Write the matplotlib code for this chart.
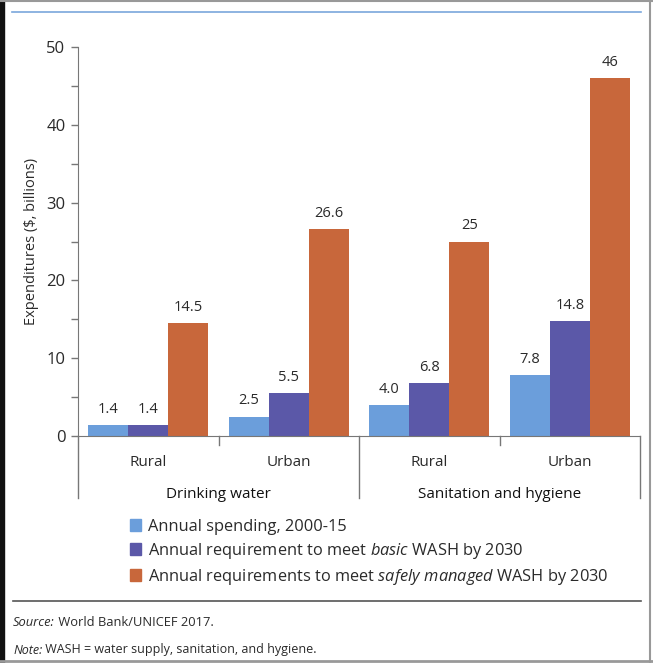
import matplotlib
matplotlib.use("Agg")
import matplotlib.pyplot as plt
from matplotlib.patches import Patch, Rectangle
from matplotlib.lines import Line2D
import numpy as np

# data
subgroups = ["Rural", "Urban", "Rural", "Urban"]
groups = ["Drinking water", "Sanitation and hygiene"]
spending = [1.4, 2.5, 4.0, 7.8]
basic_req = [1.4, 5.5, 6.8, 14.8]
safe_req = [14.5, 26.6, 25, 46]
spending_lbl = ["1.4", "2.5", "4.0", "7.8"]
basic_lbl = ["1.4", "5.5", "6.8", "14.8"]
safe_lbl = ["14.5", "26.6", "25", "46"]
series_names = [
    "Annual spending, 2000-15",
    r"Annual requirement to meet $\it{basic}$ WASH by 2030",
    r"Annual requirements to meet $\it{safely\ managed}$ WASH by 2030",
]

BLUE = "#6b9edb"
PURPLE = "#5b58a8"
ORANGE = "#c8673b"
TXT = "#2a2a2a"
AX = "#777777"

plt.rcParams["font.family"] = ["Open Sans", "DejaVu Sans"]
plt.rcParams["mathtext.fontset"] = "custom"
plt.rcParams["mathtext.it"] = "Open Sans:italic"
plt.rcParams["mathtext.rm"] = "Open Sans"

W, H = 653, 663
fig = plt.figure(figsize=(W / 100, H / 100), dpi=100)

def fx(px):
    return px / W

def fy(py):
    return 1 - py / H

ax = fig.add_axes([fx(78), fy(436), fx(640) - fx(78), fy(47) - fy(436)])

x = np.arange(len(subgroups))
w = 0.285
b1 = ax.bar(x - w, spending, w, color=BLUE)
b2 = ax.bar(x, basic_req, w, color=PURPLE)
b3 = ax.bar(x + w, safe_req, w, color=ORANGE)
for bars, labels in [(b1, spending_lbl), (b2, basic_lbl), (b3, safe_lbl)]:
    ax.bar_label(bars, labels=labels, padding=6, fontsize=10.5, color=TXT)

ax.set_xlim(-0.5, 3.5)
ax.set_ylim(0, 50)
ax.set_yticks(np.arange(0, 51, 10))
ax.set_yticks(np.arange(5, 50, 10), minor=True)
ax.tick_params(axis="y", which="both", direction="out", length=5, width=1,
               color=AX, labelsize=12, labelcolor=TXT, pad=4)
ax.set_xticks([])
for s in ["top", "right"]:
    ax.spines[s].set_visible(False)
ax.spines["left"].set_color(AX)
ax.spines["bottom"].set_color(AX)
ax.set_ylabel("Expenditures ($, billions)", fontsize=10.5, color=TXT, labelpad=5)

# two-level category axis
tr = ax.get_xaxis_transform()
yb = -(498 - 436) / (436 - 47)
ys = -(445 - 436) / (436 - 47)
for xv in [-0.5, 1.5, 3.5]:
    ax.add_line(Line2D([xv, xv], [0, yb], transform=tr, color=AX, lw=1, clip_on=False))
for xv in [0.5, 2.5]:
    ax.add_line(Line2D([xv, xv], [0, ys], transform=tr, color=AX, lw=1, clip_on=False))
y_sub = -(462 - 436) / (436 - 47)
y_grp = -(494 - 436) / (436 - 47)
for xi, name in zip(x, subgroups):
    ax.text(xi, y_sub, name, transform=tr, ha="center", va="center", fontsize=11, color=TXT)
for gi, name in enumerate(groups):
    ax.text(gi * 2 + 0.5, y_grp, name, transform=tr, ha="center", va="center",
            fontsize=11, color="#111111")

# legend
handles = [Patch(color=c) for c in [BLUE, PURPLE, ORANGE]]
fig.legend(handles, series_names, loc="upper left", bbox_to_anchor=(fx(115), fy(504)),
           frameon=False, fontsize=11.8, handlelength=0.7, handleheight=0.7,
           handletextpad=0.4, labelspacing=0.36, labelcolor=TXT)

# frame, rules and notes
fig.add_artist(Line2D([fx(12), fx(641)], [fy(12), fy(12)], color="#7aa7dc", lw=1.2))
fig.add_artist(Line2D([fx(13), fx(641)], [fy(601), fy(601)], color="#555555", lw=1.2))
fig.add_artist(Rectangle((0, 0), fx(4), 1, color="#111111", transform=fig.transFigure))
fig.add_artist(Line2D([0, 1], [fy(1), fy(1)], color="#999999", lw=1.5))
fig.add_artist(Line2D([fx(650), fx(650)], [0, 1], color="#999999", lw=1.5))
fig.add_artist(Line2D([0, 1], [fy(661), fy(661)], color="#999999", lw=2))

src = fig.text(fx(13), fy(623), "Source:", fontsize=9.3, style="italic", color=TXT, va="center")
note = fig.text(fx(13), fy(650), "Note:", fontsize=9, style="italic", color=TXT, va="center")
fig.canvas.draw()
r = fig.canvas.get_renderer()
for t, rest, fs in [(src, " World Bank/UNICEF 2017.", 9.3),
                    (note, " WASH = water supply, sanitation, and hygiene.", 9)]:
    bb = t.get_window_extent(r).transformed(fig.transFigure.inverted())
    fig.text(bb.x1, t.get_position()[1], rest, fontsize=fs, color=TXT, va="center")

fig.savefig("out.png", dpi=100)
